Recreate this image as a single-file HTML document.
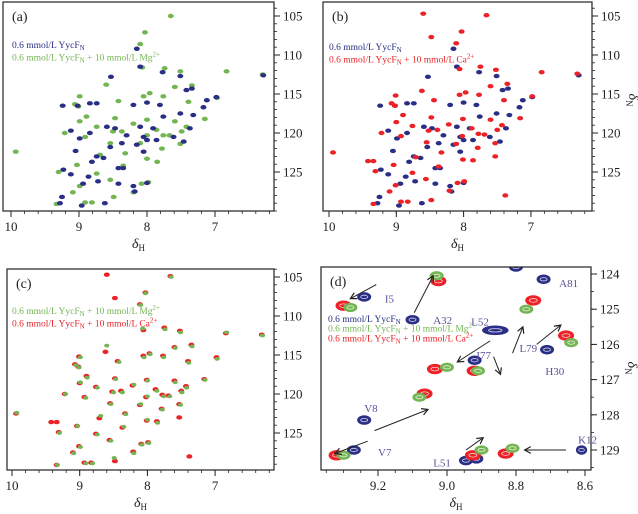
<!DOCTYPE html>
<html><head><meta charset="utf-8">
<style>
body{margin:0;background:#fff;}
svg{display:block;font-family:"Liberation Serif",serif;}
</style></head>
<body>
<svg id="fig" width="638" height="514" viewBox="0 0 638 514"></svg>
<script>
// Peak data (δH ppm, δN ppm)
const blueH=[8.15,8.10,8.53,7.77,7.51,6.29,9.24,8.84,8.74,9.02,8.20,8.00,7.81,7.42,7.34,7.12,6.98,7.51,7.32,7.17,9.12,8.99,8.84,8.59,8.47,8.30,8.10,8.05,7.91,8.15,8.00,7.86,7.76,7.61,7.46,7.37,8.54,8.37,9.05,8.74,8.81,8.64,8.42,8.35,8.05,9.23,9.12,8.86,8.72,8.42,8.94,9.25,9.28,8.96,8.62,8.20,8.18,8.00];
const blueN=[109.2,111.5,112.8,112.2,112.7,112.6,116.5,116.2,116.2,116.5,116.4,116.1,116.4,114.5,114.3,115.8,115.4,117.5,117.7,116.7,119.7,120.7,120.0,119.2,119.4,120.3,119.2,120.5,119.4,121.5,120.9,120.9,117.9,120.5,121.1,119.4,121.8,121.3,122.3,123.0,123.7,123.2,124.5,124.5,122.4,124.7,125.3,125.6,126.2,126.5,126.5,128.2,129.0,129.3,129.0,126.8,127.5,126.4];
const greenH=[7.65,8.03,8.10,8.07,7.51,6.83,7.74,8.60,8.99,9.06,9.01,8.42,8.05,7.96,7.76,7.59,7.34,7.39,6.97,7.15,8.47,8.89,8.99,8.74,9.21,8.91,8.50,8.37,8.54,8.20,8.00,7.86,7.76,7.67,7.59,7.49,7.42,7.51,8.00,8.10,7.78,8.00,7.85,8.69,8.35,9.03,9.30,8.74,8.54,8.99,9.09,8.49,8.20,8.08,7.98,9.33,8.91,8.81,9.93,8.32,6.30];
const greenN=[105.0,107.1,108.6,111.6,112.1,112.1,111.7,113.8,115.3,116.3,116.6,115.9,115.3,114.9,115.3,114.1,113.9,116.0,115.5,118.2,118.1,117.9,118.5,119.2,120.0,120.5,119.8,119.8,121.3,118.8,118.3,119.6,120.3,120.3,118.5,119.8,119.2,121.4,120.3,121.3,122.0,123.3,123.7,122.8,124.2,124.1,125.0,125.2,126.0,126.8,127.6,128.2,127.6,126.5,126.3,129.1,128.9,128.9,122.4,122.6,112.5];
const redH=[7.66,8.03,8.11,8.06,7.52,6.84,7.75,8.62,9.01,9.07,9.02,8.44,8.06,7.97,7.77,7.60,7.35,7.40,6.98,7.16,8.48,8.90,9.00,8.76,9.22,8.93,8.52,8.39,8.55,8.22,8.01,7.88,7.78,7.69,7.60,7.50,7.43,7.53,8.02,8.11,7.79,8.01,7.86,8.71,8.37,9.04,9.31,8.76,8.56,9.01,9.10,8.48,8.21,8.09,7.99,9.34,8.93,8.83,9.94,8.33,6.31,8.60,8.48,7.38,9.42,9.34,7.53];
const redN=[104.9,107.0,108.5,111.8,111.9,112.2,111.5,114.6,115.2,116.2,116.5,115.8,115.1,114.8,115.1,114.0,113.7,115.8,115.3,118.1,118.0,117.7,118.6,119.1,120.0,120.4,119.7,119.6,121.2,118.9,118.2,119.4,120.1,120.2,118.3,119.6,119.0,121.3,120.4,121.4,121.9,123.4,123.5,123.1,124.3,124.1,124.9,125.1,125.9,126.7,127.5,128.6,127.4,126.4,126.2,129.1,128.8,128.8,122.5,122.5,112.4,104.7,107.7,128.0,123.6,123.6,123.0];
// Panel (d) zoom data
const dBlueH=[9.24,9.10,8.86,8.72,8.92,8.71,8.61,9.24,9.27,8.945,8.915,8.80];
const dBlueN=[124.65,125.3,125.6,124.15,126.45,126.15,129.0,128.15,129.0,129.3,129.25,123.8];
const dBlueW=[1,1,1.9,1,1,1,0.8,1,1,1,1,1];
const dLabel=["I5","A32","L52","A81","I77","H30","K12","V8","V7","L51","","L79"];
const dLabelH=[9.18,9.04,8.93,8.675,8.915,8.715,8.62,9.24,9.20,9.04,8.93,8.79];
const dLabelN=[124.7,125.3,125.35,124.25,126.3,126.75,128.7,127.8,129.05,129.35,126.3,126.1];
const dGreenH=[9.28,9.03,9.00,8.91,8.77,8.64,9.08,9.30,8.90,8.81];
const dGreenN=[124.95,124.05,126.65,126.75,125.0,125.95,127.5,129.15,129.0,128.95];
const dRedH=[9.30,9.025,9.035,8.92,8.75,8.655,9.065,9.32,8.925,8.83];
const dRedN=[124.9,124.2,126.7,126.75,124.75,125.75,127.4,129.15,129.15,129.1];
const arrowFromH=[9.205,9.095,8.875,8.865,8.81,8.74,9.21,9.23,8.945,8.655];
const arrowFromN=[124.3,125.1,125.9,126.35,126.25,126.0,128.45,128.75,129.0,129.0];
const arrowToH=[9.28,9.04,8.97,8.845,8.78,8.67,9.055,9.325,8.895,8.775];
const arrowToN=[124.7,124.05,126.5,126.85,125.5,125.45,127.85,129.1,128.65,129.0];

const BLUE="#2a2f85",GREEN="#74b553",RED="#ec2226",LAB="#5a5196";
const NS="http://www.w3.org/2000/svg";
const svg=document.getElementById('fig');
function el(tag,attrs,parent){const e=document.createElementNS(NS,tag);for(const k in attrs)e.setAttribute(k,attrs[k]);(parent||svg).appendChild(e);return e;}

function panel(cfg){
  const g=el('g',{});
  
  
  const [x0,y0,x1,y1]=cfg.box;
  const cp=el('clipPath',{id:'clip'+cfg.id},g);
  el('rect',{x:x0,y:y0,width:x1-x0,height:y1-y0},cp);
  const xs=cfg.xs, ys=cfg.ys;
  const plot=el('g',{'clip-path':'url(#clip'+cfg.id+')'},g);
  
  
  cfg.series.forEach(s=>{
    for(let i=0;i<s.H.length;i++){
      const cx=xs(s.H[i]),cy=ys(s.N[i]);
      const w=(s.W?s.W[i]:1);
      const e=el('ellipse',{cx:cx,cy:cy,rx:s.rx*w,ry:s.ry,fill:s.color},plot);
      
      
      if(s.inner){
        el('ellipse',{cx:cx,cy:cy,rx:s.rx*w*0.5,ry:s.ry*0.35,fill:'none',stroke:'#fff','stroke-width':0.8,opacity:0.8},plot);
      }
    }
  });
  const frame=el('rect',{x:x0,y:y0,width:x1-x0,height:y1-y0,fill:'none',stroke:'#222','stroke-width':1.2},g);
  
  
  cfg.xMinor.forEach(v=>{const x=xs(v);if(x<x0||x>x1)return;el('line',{x1:x,x2:x,y1:y1,y2:y1+3,stroke:'#222','stroke-width':0.8},g);});
  cfg.xMajor.forEach(v=>{const x=xs(v);el('line',{x1:x,x2:x,y1:y1,y2:y1+6,stroke:'#222','stroke-width':1},g);
    const t=el('text',{x:x,y:y1+20,'text-anchor':'middle','font-size':13,fill:'#222'},g);t.textContent=cfg.xFmt(v);
    });
  cfg.yMinor.forEach(v=>{const y=ys(v);if(y<y0||y>y1)return;el('line',{x1:x1,x2:x1+3,y1:y,y2:y,stroke:'#222','stroke-width':0.8},g);});
  cfg.yMajor.forEach(v=>{const y=ys(v);el('line',{x1:x1,x2:x1+6,y1:y,y2:y,stroke:'#222','stroke-width':1},g);
    const t=el('text',{x:x1+9,y:y+4.5,'font-size':13,fill:'#222'},g);t.textContent=v;
    });
  const xl=el('text',{x:(x0+x1)/2,y:y1+37,'text-anchor':'middle','font-size':14,'font-style':'italic',fill:'#222'},g);
  xl.innerHTML='δ<tspan font-size="9" font-style="normal" dy="3">H</tspan>';
  
  if(cfg.yTitle){
    const yl=el('text',{transform:'translate('+(x1+37)+','+cfg.yTitle+') rotate(90)','text-anchor':'middle','font-size':14,'font-style':'italic',fill:'#222'},g);
    yl.innerHTML='δ<tspan font-size="9" font-style="normal" dy="3">N</tspan>';
    
  }
  const tag=el('text',{x:x0+9,y:y0+19,'font-size':14,fill:'#222'},g);tag.textContent='('+cfg.id+')';
  
  cfg.legend.forEach((L,i)=>{
    const t=el('text',{x:cfg.legX,y:cfg.legY+i*cfg.legDy,'font-size':9.5,fill:L.c},g);
    t.innerHTML=L.t;
    
  });
  return g;
}
const Y1='0.6 mmol/L YycF<tspan font-size="7" dy="2">N</tspan>';
const sub='YycF<tspan font-size="7" dy="2">N</tspan><tspan dy="-2"> + 10 mmol/L </tspan>';
const LMg='0.6 mmol/L '+sub+'Mg<tspan font-size="7" dy="-4">2+</tspan>';
const LCa='0.6 mmol/L '+sub+'Ca<tspan font-size="7" dy="-4">2+</tspan>';
function range(a,b,s){const r=[];for(let v=a;v<=b+1e-9;v+=s)r.push(Math.round(v*1000)/1000);return r;}
const ovMinorX=range(6,10,0.2),ovMajorX=[10,9,8,7],ovMinorY=range(103,130,1),ovMajorY=[105,110,115,120,125];
const small={rx:3,ry:2.2};

panel({id:'a',box:[3,2,274,211],xs:h=>11+(10-h)*68,ys:n=>16+(n-105)*7.8,
 series:[Object.assign({H:greenH,N:greenN,color:GREEN,name:'mg'},small),Object.assign({H:blueH,N:blueN,color:BLUE,name:'apo'},small)],
 xMinor:ovMinorX,xMajor:ovMajorX,yMinor:ovMinorY,yMajor:ovMajorY,xFmt:v=>v,
 legend:[{t:Y1,c:BLUE},{t:LMg,c:GREEN}],legX:12,legY:48,legDy:12.5});
panel({id:'b',box:[323,2,592,211],xs:h=>329+(10-h)*67.3,ys:n=>16+(n-105)*7.8,yTitle:100,
 series:[Object.assign({H:blueH,N:blueN,color:BLUE,name:'apo'},small),Object.assign({H:redH,N:redN,color:RED,name:'ca'},small)],
 xMinor:ovMinorX,xMajor:ovMajorX,yMinor:ovMinorY,yMajor:ovMajorY,xFmt:v=>v,
 legend:[{t:Y1,c:BLUE},{t:LCa,c:RED}],legX:329,legY:50,legDy:12.5});
panel({id:'c',box:[7,269,274,470],xs:h=>12+(10-h)*67.7,ys:n=>277+(n-105)*7.8,
 series:[Object.assign({H:redH,N:redN,color:RED,name:'ca'},small),{H:greenH,N:greenN,color:GREEN,name:'mg',rx:2.6,ry:1.9}],
 xMinor:ovMinorX,xMajor:ovMajorX,yMinor:ovMinorY,yMajor:ovMajorY,xFmt:v=>v,
 legend:[{t:LMg,c:GREEN},{t:LCa,c:RED}],legX:12,legY:314,legDy:12.5});
const dxs=h=>378+(9.2-h)*345, dys=n=>274+(n-124)*35.2;
panel({id:'d',box:[321,267,591,470],xs:dxs,ys:dys,yTitle:368,
 series:[{H:dBlueH,N:dBlueN,W:dBlueW,color:BLUE,name:'apo',rx:7,ry:4.8,inner:true},
         {H:dRedH,N:dRedN,color:RED,name:'ca',rx:8,ry:5.2,inner:true},
         {H:dGreenH,N:dGreenN,color:GREEN,name:'mg',rx:7,ry:4.6,inner:true}],
 xMinor:range(8.55,9.4,0.05),xMajor:[9.2,9.0,8.8,8.6],yMinor:range(123.5,129.5,0.5),yMajor:[124,125,126,127,128,129],xFmt:v=>v.toFixed(1),
 legend:[{t:Y1,c:BLUE},{t:LMg,c:GREEN},{t:LCa,c:RED}],legX:328,legY:322,legDy:9.7});
const ann=el('g',{'font-size':11,fill:LAB});


dLabel.forEach((s,i)=>{if(!s)return;const t=el('text',{x:dxs(dLabelH[i]),y:dys(dLabelN[i])+4},ann);t.textContent=s;
 });
arrowFromH.forEach((h,i)=>{
  const xa=dxs(h),ya=dys(arrowFromN[i]),xb=dxs(arrowToH[i]),yb=dys(arrowToN[i]);
  const a=el('line',{x1:xa,y1:ya,x2:xb,y2:yb,stroke:'#222','stroke-width':1},ann);
  
  const ang=Math.atan2(yb-ya,xb-xa),L=7,sp=0.5;
  el('polyline',{points:(xb-L*Math.cos(ang-sp))+','+(yb-L*Math.sin(ang-sp))+' '+xb+','+yb+' '+(xb-L*Math.cos(ang+sp))+','+(yb-L*Math.sin(ang+sp)),fill:'none',stroke:'#222','stroke-width':1.2},ann);
});
</script>
</body></html>
